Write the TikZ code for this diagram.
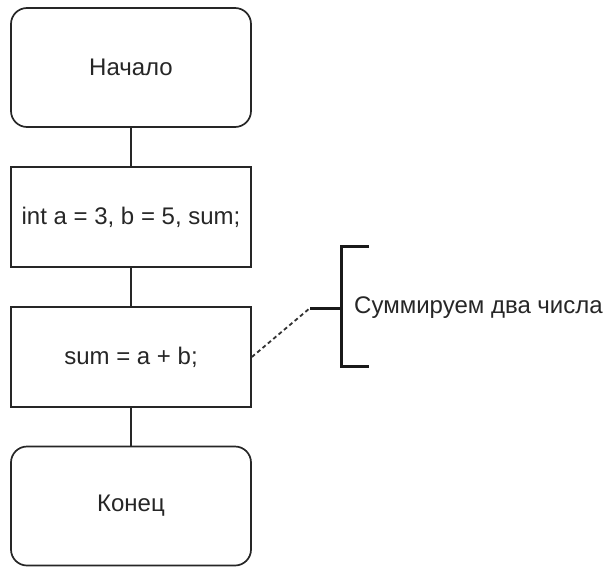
\documentclass[tikz,border=0pt]{standalone}
\usepackage{fontspec}
\setmainfont{Liberation Sans}
\begin{document}
\begin{tikzpicture}[x=1pt,y=-1pt,
  base/.style={draw=black!85,line width=1.7pt,minimum width=240pt,inner sep=0pt,
    font=\fontsize{24}{28}\selectfont,text=black!85},
  term/.style={base,rounded corners=16pt,minimum height=119pt},
  proc/.style={base,minimum height=100pt},
  link/.style={draw=black!85,line width=1.7pt},
  note/.style={draw=black!80,line width=1.8pt,dash pattern=on 4pt off 3pt},
  brk/.style={draw=black!90,line width=3pt}]
\useasboundingbox (0,0) rectangle (610,567);
\node[term] (start) at (131,67.5) {Начало};
\node[proc] (decl) at (131,217) {int a = 3, b = 5, sum;};
\node[proc] (calc) at (131,357) {sum = a + b;};
\node[term] (stop) at (131,506) {Конец};
\draw[link] (start) -- (decl);
\draw[link] (decl) -- (calc);
\draw[link] (calc) -- (stop);
\coordinate (tip) at (310,308);
\coordinate (mid) at (341,308);
\coordinate (top) at (341,246);
\coordinate (bot) at (341,366);
\coordinate (topend) at (369,246);
\coordinate (botend) at (369,366);
\draw[note] (calc.east) -- (tip);
\draw[brk] (topend) -- (top) -- (bot) -- (botend);
\draw[brk] (tip) -- (mid);
\node[anchor=west,inner sep=0pt,font=\fontsize{24}{28}\selectfont,text=black!85] (lbl) at (354,308) {Суммируем два числа};
\end{tikzpicture}
\end{document}
